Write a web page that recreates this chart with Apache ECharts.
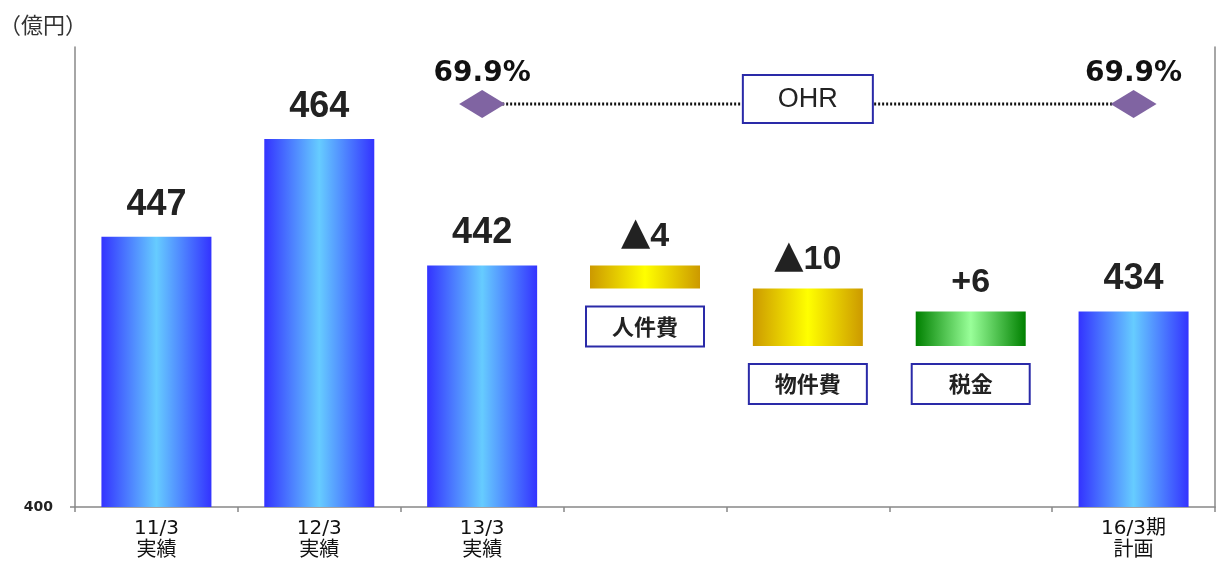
<!DOCTYPE html>
<html>
<head>
<meta charset="utf-8">
<script src="https://cdn.jsdelivr.net/npm/echarts@6/dist/echarts.min.js"></script>
<style>
html,body{margin:0;padding:0;background:#fff;}
#main{width:1216px;height:563px;}
</style>
</head>
<body>
<div id="main"></div>
<script>
// ---- data ----
const categories = ['11/3\n実績', '12/3\n実績', '13/3\n実績', '人件費', '物件費', '税金', '16/3期\n計画'];
const axisLabels = ['11/3\n実績', '12/3\n実績', '13/3\n実績', '', '', '', '16/3期\n計画'];
const totals = [447, 464, 442, null, null, null, 434];
const changeBase = [null, null, null, 438, 428, 428, null];
const changes = [null, null, null, 4, 10, 6, null];
const changeSigns = ['', '', '', '▲', '▲', '+', ''];
const boxLabels = ['', '', '', '人件費', '物件費', '税金', ''];
const ohr = [null, null, 69.9, null, null, null, 69.9];
const ohrLabel = 'OHR';
const yTicks = [400];

// ---- styles ----
function hGrad(edge, mid) {
  return new echarts.graphic.LinearGradient(0, 0, 1, 0, [
    {offset: 0, color: edge}, {offset: 0.5, color: mid}, {offset: 1, color: edge}
  ]);
}
const blue = hGrad('#3333ff', '#66ccff');
const gold = hGrad('#cc9900', '#ffff00');
const green = hGrad('#008000', '#99ff99');
const changeColors = [null, null, null, gold, gold, green, null];
const numFont = "'Liberation Sans', Arial, 'DejaVu Sans', sans-serif";
const cjkFont = "'Noto Sans CJK JP', 'DejaVu Sans', sans-serif";

const chart = echarts.init(document.getElementById('main'), null, {renderer: 'canvas'});
chart.setOption({
  animation: false,
  backgroundColor: '#fff',
  title: {
    text: '（億円）', left: -6, top: 9,
    textStyle: {fontSize: 22, fontWeight: 'normal', color: '#333', fontFamily: cjkFont}
  },
  grid: {left: 75, right: 1, top: 47, bottom: 56, outerBoundsMode: 'none', containLabel: false},
  xAxis: {
    type: 'category',
    data: categories,
    axisLine: {lineStyle: {color: '#888', width: 1.5}},
    axisTick: {show: true, length: 5, lineStyle: {color: '#888', width: 1.5}},
    axisLabel: {
      margin: 11, fontSize: 20, lineHeight: 22, color: '#111',
      fontFamily: "'DejaVu Sans', 'Noto Sans CJK JP', sans-serif",
      formatter: (v, i) => axisLabels[i]
    }
  },
  yAxis: [{
    type: 'value', min: 400, max: 480,
    splitLine: {show: false},
    axisLine: {show: true, lineStyle: {color: '#888', width: 1.5}},
    axisTick: {show: true, length: 5, customValues: yTicks, lineStyle: {color: '#888', width: 1.5}},
    axisLabel: {customValues: yTicks, margin: 22, fontSize: 14, fontWeight: 'bold', color: '#222', fontFamily: "'DejaVu Sans', sans-serif"}
  }, {
    type: 'value', min: 0, max: 79.8, position: 'right',
    splitLine: {show: false},
    axisLine: {show: true, lineStyle: {color: '#888', width: 1.5}},
    axisTick: {show: false},
    axisLabel: {show: false}
  }],
  series: [{
    name: 'total', type: 'bar', barWidth: 110, barGap: '-100%',
    data: totals,
    itemStyle: {color: blue},
    label: {
      show: true, position: 'top', distance: 14,
      fontSize: 36, fontWeight: 'bold', color: '#222', fontFamily: numFont
    }
  }, {
    name: 'base', type: 'bar', stack: 'w', barWidth: 110, barGap: '-100%',
    data: changeBase,
    itemStyle: {color: 'transparent'},
    emphasis: {disabled: true},
    label: {
      show: true, position: 'insideTop', distance: 19,
      formatter: p => boxLabels[p.dataIndex],
      width: 116, height: 38, lineHeight: 38, align: 'center',
      backgroundColor: '#fff', borderColor: '#2a2aa8', borderWidth: 2,
      fontSize: 22, fontWeight: 'bold', color: '#222', fontFamily: cjkFont
    }
  }, {
    name: 'change', type: 'bar', stack: 'w', barWidth: 110, barGap: '-100%',
    data: changes.map((v, i) => v == null ? null : {value: v, itemStyle: {color: changeColors[i]}}),
    label: {
      show: true, position: 'top', distance: 12,
      formatter: p => changeSigns[p.dataIndex] === '▲'
        ? '{tri|▲}{num|' + p.value + '}'
        : '{num|' + changeSigns[p.dataIndex] + p.value + '}',
      rich: {
        tri: {fontSize: 38, color: '#222', fontFamily: "'DejaVu Sans', sans-serif", verticalAlign: 'bottom', lineHeight: 36},
        num: {fontSize: 34, fontWeight: 'bold', color: '#222', fontFamily: numFont, verticalAlign: 'bottom', lineHeight: 36}
      }
    }
  }, {
    name: 'OHR', type: 'line', yAxisIndex: 1,
    data: ohr, connectNulls: true,
    symbol: 'diamond', symbolSize: [46, 28],
    itemStyle: {color: '#8064a2'},
    lineStyle: {color: '#111', width: 3, type: [2, 2]},
    label: {
      show: true, position: 'top', distance: 2,
      formatter: p => p.value.toFixed(1) + '%',
      fontSize: 28, fontWeight: 'bold', color: '#111', fontFamily: "'DejaVu Sans', sans-serif"
    },
    markPoint: {
      symbol: 'circle', symbolSize: 1,
      itemStyle: {color: 'transparent'},
      label: {
        show: true, position: 'inside', offset: [0, -5], formatter: ohrLabel,
        width: 128, height: 46, lineHeight: 46, align: 'center',
        backgroundColor: '#fff', borderColor: '#2a2aa8', borderWidth: 2,
        fontSize: 27, color: '#222', fontFamily: numFont
      },
      data: [{coord: [4, 69.9]}]
    }
  }]
});
</script>
</body>
</html>
